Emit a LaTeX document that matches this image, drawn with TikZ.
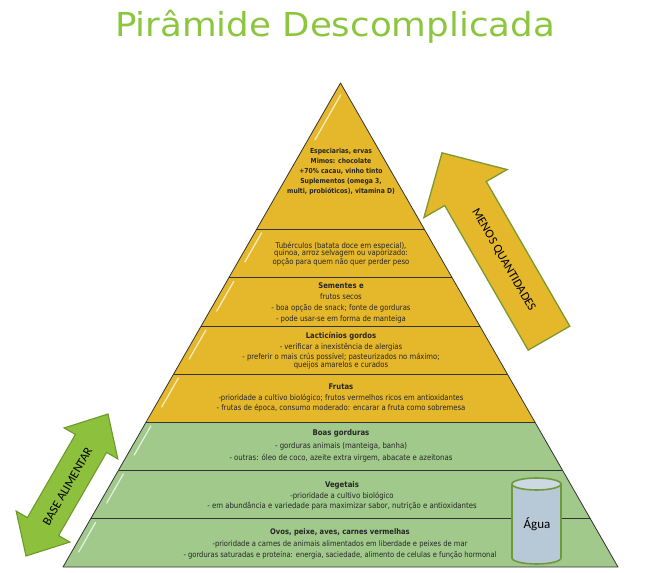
\documentclass[tikz,border=0pt]{standalone}
\usepackage{fontspec}
\newfontfamily\titlefont[FakeStretch=1.08]{DejaVu Sans}
\newfontfamily\bodyfont[FakeStretch=0.88]{DejaVu Sans}
\newfontfamily\calfont{Carlito}
\definecolor{pyel}{HTML}{E5B72B}
\definecolor{pgrn}{HTML}{A0C98B}
\definecolor{tgrn}{HTML}{8CC63F}
\definecolor{agrn}{HTML}{8DC03C}
\definecolor{aedge}{HTML}{6E9A2C}
\definecolor{yedge}{HTML}{7A9A2E}
\definecolor{cylf}{HTML}{B7C8D6}
\definecolor{cylt}{HTML}{CCD8E2}
\definecolor{cyle}{HTML}{6F9A3C}
\definecolor{txt}{HTML}{262626}
\definecolor{outl}{HTML}{333333}
\begin{document}
\begin{tikzpicture}[x=1pt,y=-1pt,
  lbl/.style={font=\bodyfont\fontsize{7.8}{10.5}\selectfont,text=txt,align=center,inner sep=0pt},
  gloss/.style={white,opacity=0.7,line width=1.3pt,line cap=round},
  arrowtxt/.style={font=\calfont\fontsize{12.4}{14}\selectfont,text=black,inner sep=0pt}]
\useasboundingbox (0,0) rectangle (670,573);
% layer corners
\foreach \k/\yy in {0/83,1/229,2/277.5,3/326,4/374,5/422,6/470,7/518.5,8/567}{
  \pgfmathsetmacro\hw{(\yy-83)*0.57335}
  \coordinate (L\k) at ({340.5-\hw},\yy);
  \coordinate (R\k) at ({340.5+\hw},\yy);
}
% fills
\fill[pyel] (L0) -- (L1) -- (R1) -- cycle;
\foreach \a/\b in {1/2,2/3,3/4,4/5}{\fill[pyel] (L\a) -- (L\b) -- (R\b) -- (R\a) -- cycle;}
\foreach \a/\b in {5/6,6/7,7/8}{\fill[pgrn] (L\a) -- (L\b) -- (R\b) -- (R\a) -- cycle;}
% gloss highlights
\foreach \ya/\yb in {95/140,233/262,281.5/311,330/359,378/407,426/455,474/503,522.5/552}{
  \pgfmathsetmacro\xa{340.5-(\ya-83)*0.57335+7}
  \pgfmathsetmacro\xb{340.5-(\yb-83)*0.57335+7}
  \draw[gloss] (\xa,\ya) -- (\xb,\yb);
}
% outlines
\draw[outl,line width=0.8pt,line join=round] (L0) -- (L8) -- (R8) -- cycle;
\foreach \k in {1,...,7}{\draw[outl,line width=0.8pt] (L\k) -- (R\k);}
% texts
\node[lbl,font=\bodyfont\bfseries\fontsize{6.9}{10.2}\selectfont] (t0) at (341,171.5) {Especiarias, ervas\\Mimos: chocolate\\+70\% cacau, vinho tinto\\Suplementos (omega 3,\\multi, probióticos), vitamina D)};
\node[lbl,font=\bodyfont\fontsize{7.8}{7.6}\selectfont] (t1) at (341,254) {Tubérculos (batata doce em especial),\\quinoa, arroz selvagem ou vaporizado:\\opção para quem não quer perder peso};
\node[lbl,font=\bodyfont\fontsize{7.8}{11}\selectfont] (t2) at (341,303) {\textbf{Sementes e}\\frutos secos\\- boa opção de snack; fonte de gorduras\\- pode usar-se em forma de manteiga};
\node[lbl] (t3) at (341,351) {\textbf{Lacticínios gordos}\\- verificar a inexistência de alergias\\- preferir o mais crús possível; pasteurizados no máximo;\\[-2.6pt]queijos amarelos e curados};
\node[lbl,font=\bodyfont\fontsize{7.8}{10.8}\selectfont] (t4) at (341,398) {\textbf{Frutas}\\-prioridade a cultivo biológico; frutos vermelhos ricos em antioxidantes\\- frutas de época, consumo moderado: encarar a fruta como sobremesa};
\node[lbl,font=\bodyfont\fontsize{7.9}{12.8}\selectfont] (t5) at (341,446) {\textbf{Boas gorduras}\\- gorduras animais (manteiga, banha)\\- outras: óleo de coco, azeite extra virgem, abacate e azeitonas};
\node[lbl,font=\bodyfont\fontsize{7.9}{10.8}\selectfont] (t6) at (342,496) {\textbf{Vegetais}\\-prioridade a cultivo biológico\\- em abundância e variedade para maximizar sabor, nutrição e antioxidantes};
\node[lbl,font=\bodyfont\fontsize{7.7}{11.2}\selectfont] (t7) at (340,544) {\textbf{Ovos, peixe, aves, carnes vermelhas}\\-prioridade a carnes de animais alimentados em liberdade e peixes de mar\\- gorduras saturadas e proteína: energia, saciedade, alimento de celulas e função hormonal};
% water cylinder
\fill[cylf] (512,484) rectangle (561,558);
\fill[cylf] (536.5,558) ellipse[x radius=24.5,y radius=6];
\begin{scope}
  \clip (500,558) rectangle (575,572);
  \draw[cyle,line width=1.6pt] (536.5,558) ellipse[x radius=24.5,y radius=6];
\end{scope}
\draw[cyle,line width=1.6pt] (512,484) -- (512,558) (561,484) -- (561,558);
\filldraw[fill=cylt,draw=cyle,line width=1.6pt] (536.5,484) ellipse[x radius=24.5,y radius=6];
\node[font=\calfont\fontsize{13}{15}\selectfont,text=black] (agua) at (537,524) {Água};
% right arrow
\begin{scope}[shift={(495.5,245.5)},rotate=120]
  \filldraw[fill=pyel,draw=yedge,line width=1.3pt,line join=miter]
    (-107,-24) -- (60,-24) -- (60,-48) -- (107,0) -- (60,48) -- (60,24) -- (-107,24) -- cycle;
\end{scope}
\node[arrowtxt,rotate=-60] (menos) at (503.5,260) {MENOS QUANTIDADES};
% left arrow
\begin{scope}[shift={(67,485)},rotate=60]
  \filldraw[fill=agrn,draw=aedge,line width=1.1pt,line join=miter]
    (-82,0) -- (-48,-31) -- (-48,-18) -- (48,-18) -- (48,-31) -- (82,0) -- (48,31) -- (48,18) -- (-48,18) -- (-48,31) -- cycle;
\end{scope}
\node[arrowtxt,rotate=60] (base) at (67.5,486.5) {BASE ALIMENTAR};
% title
\node[anchor=base,text=tgrn,font=\titlefont\fontsize{33}{38}\selectfont,inner sep=0pt] (title) at (335,36) {Pirâmide Descomplicada};
\end{tikzpicture}
\end{document}
